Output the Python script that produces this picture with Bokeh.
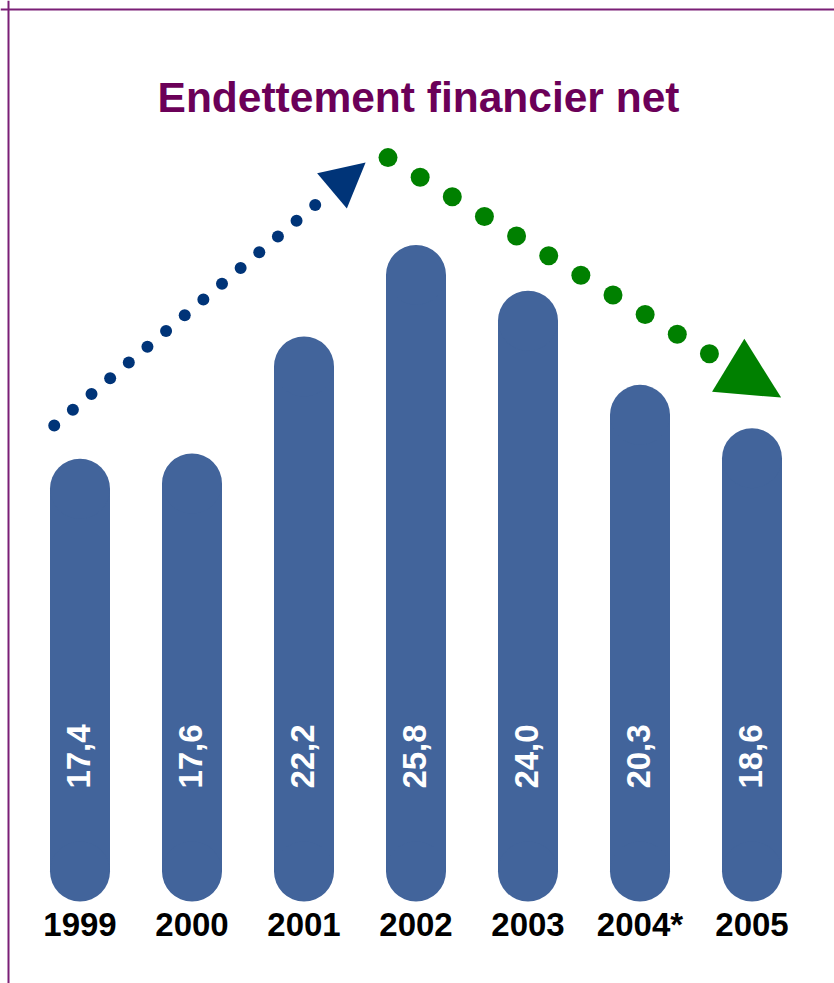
import numpy as np
from bokeh.plotting import figure
from bokeh.models import Range1d, Span, Label, ColumnDataSource
from bokeh.core.properties import value
from bokeh.embed import file_html
from bokeh.resources import INLINE

# ---- data ----
years = ["1999", "2000", "2001", "2002", "2003", "2004*", "2005"]
debt = [17.4, 17.6, 22.2, 25.8, 24.0, 20.3, 18.6]
value_labels = ["17,4", "17,6", "22,2", "25,8", "24,0", "20,3", "18,6"]
title_text = "Endettement financier net"

# ---- layout (pixel scale of the data space) ----
W, H = 834, 983
PX_X = 112.0      # px per bar slot
PX_Y = 25.45      # px per unit of value
X0_PX = 79.5      # px of bar 0 centre from left of canvas
Y0_PX = 901.0     # px of value 0 from top of canvas
BAR_W_PX = 60.0
R_PX = BAR_W_PX / 2

BAR_COLOR = "#42649B"
NAVY = "#003478"
GREEN = "#008000"
PURPLE = "#6B0058"
BORDER = "#7A1F76"

p = figure(width=W, height=H, output_backend="svg", toolbar_location=None,
           min_border=0, background_fill_color="white", border_fill_color="white",
           x_range=Range1d(-X0_PX / PX_X, (W - X0_PX) / PX_X),
           y_range=Range1d(-(H - Y0_PX) / PX_Y, Y0_PX / PX_Y))
p.axis.visible = False
p.grid.visible = False
p.outline_line_color = None

xs = np.arange(len(debt), dtype=float)
vals = np.array(debt)
r_v = R_PX / PX_Y

src = ColumnDataSource(dict(x=xs, top=vals - r_v, bottom=np.full(len(vals), r_v),
                            val=vals, lab=value_labels, year=years, zero=np.zeros(len(vals))))

# capsule bars: body + round caps
p.vbar(x="x", top="top", bottom="bottom", width=BAR_W_PX / PX_X, source=src,
       fill_color=BAR_COLOR, line_color=None)
p.scatter(x="x", y="top", size=BAR_W_PX, marker="circle", source=src,
          fill_color=BAR_COLOR, line_color=None)
p.scatter(x="x", y="bottom", size=BAR_W_PX, marker="circle", source=src,
          fill_color=BAR_COLOR, line_color=None)

# value labels, rotated
p.text(x="x", y="zero", text="lab", source=src, angle=np.pi / 2,
       text_align="center", text_baseline="middle", y_offset=-145, x_offset=-2,
       text_color="white", text_font=value("Liberation Sans"), text_font_style="bold",
       text_font_size="33px")

# year labels
p.text(x="x", y="zero", text="year", source=src, y_offset=23,
       text_align="center", text_baseline="alphabetic",
       text_color="black", text_font=value("Liberation Sans"), text_font_style="bold",
       text_font_size="33px")


# ---- decorative trend arrows ----
def to_px(pt):
    return np.array([X0_PX + pt[0] * PX_X, Y0_PX - pt[1] * PX_Y])


def to_data(px):
    return ((px[..., 0] - X0_PX) / PX_X, (Y0_PX - px[..., 1]) / PX_Y)


def arrow(start, tip, n_dots, dot_size, head_len, head_w, gap, color):
    s, t = to_px(start), to_px(tip)
    d = t - s
    L = np.hypot(*d)
    u = d / L
    nrm = np.array([-u[1], u[0]])
    last = L - head_len - gap
    pts = s + np.outer(np.linspace(0, last, n_dots), u)
    dx, dy = to_data(pts)
    p.scatter(dx, dy, size=dot_size, marker="circle", fill_color=color, line_color=None)
    base = t - head_len * u
    tri = np.array([t, base + nrm * head_w / 2, base - nrm * head_w / 2])
    tx, ty = to_data(tri)
    p.patch(list(tx), list(ty), fill_color=color, line_color=None)


arrow((0 - 0.23, debt[0] + 1.3), (3 - 0.45, debt[3] + 3.24), 15, 12, 44, 46, 22, NAVY)
arrow((3 - 0.25, debt[3] + 3.43), (6 + 0.26, debt[6] + 1.2), 11, 19, 62, 62, 22, GREEN)

# title
p.add_layout(Label(x=418, y=H - 97, x_units="screen", y_units="screen", text=title_text,
                   text_align="center", text_baseline="alphabetic", text_color=PURPLE,
                   text_font="Liberation Sans", text_font_style="bold", text_font_size="42.5px"))

# frame border (left and top)
p.add_layout(Span(location=p.x_range.start + 8.0 / PX_X, dimension="height",
                  line_color=BORDER, line_width=2))
p.add_layout(Span(location=p.y_range.end - 9.0 / PX_Y, dimension="width",
                  line_color=BORDER, line_width=2))

open("out.html", "w").write(file_html(p, INLINE))
